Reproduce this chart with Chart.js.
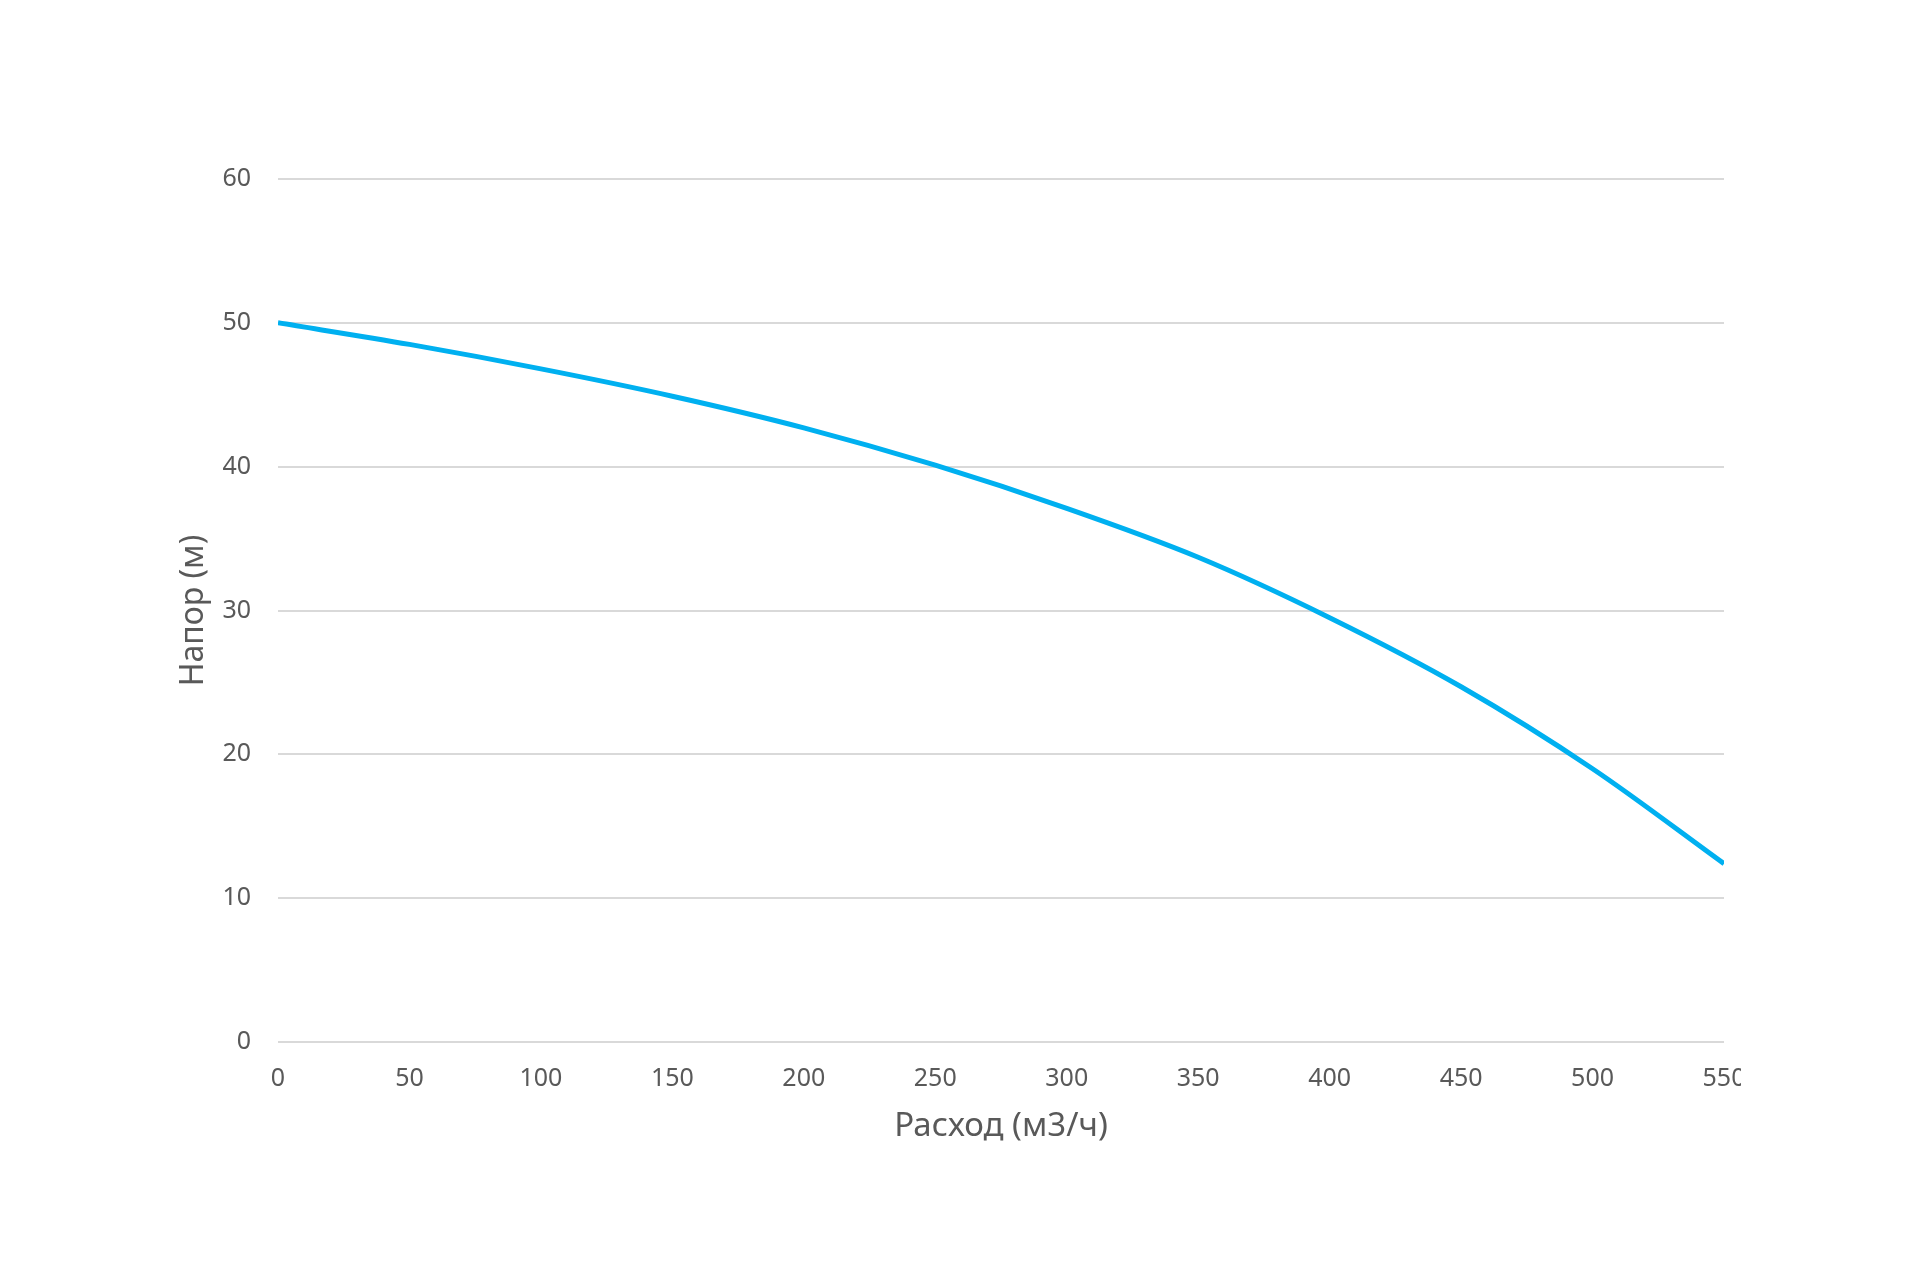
<!DOCTYPE html>
<html>
<head>
<meta charset="utf-8">
<title>Напор / Расход</title>
<script src="https://cdn.jsdelivr.net/npm/chart.js@4"></script>
<style>
  html, body { margin: 0; padding: 0; background: #fff; }
  #wrap { position: absolute; left: 0; top: 0; width: 1741px; height: 1280px; overflow: hidden; }
  #wrap canvas { position: absolute; left: 0; top: 0; }
</style>
</head>
<body>
<div id="wrap">
  <canvas id="myChart" width="1920" height="1280"></canvas>
</div>
<script>
'use strict';

// ******* DATA *******
let flowValues = [0, 50, 100, 150, 200, 250, 300, 350, 400, 450, 500, 550];
let headValues = [50.0, 48.5, 46.8, 44.9, 42.7, 40.1, 37.1, 33.7, 29.5, 24.7, 19.0, 12.4];
let xTicks = [0, 50, 100, 150, 200, 250, 300, 350, 400, 450, 500, 550];
let yTicks = [0, 10, 20, 30, 40, 50, 60];

let xTitle = 'Расход (м3/ч)';
let yTitle = 'Напор (м)';

// ******* BUILD POINTS *******
let points = [];
for (let i = 0; i < flowValues.length; i++) {
  points.push({ x: flowValues[i], y: headValues[i] });
}

let labelColor = '#595959';
let gridColor = '#d9d9d9';
let fontFamily = '"Noto Sans", "Open Sans", sans-serif';

const ctx = document.getElementById('myChart').getContext('2d');
const myChart = new Chart(ctx, {
  type: 'line',
  data: {
    datasets: [{
      data: points,
      borderColor: '#00b0f0',
      borderWidth: 5,
      pointRadius: 0,
      cubicInterpolationMode: 'monotone',
      fill: false
    }]
  },
  options: {
    responsive: false,
    animation: false,
    layout: {
      padding: { left: 175, right: 196, top: 179, bottom: 134 }
    },
    plugins: {
      legend: { display: false },
      tooltip: { enabled: false }
    },
    scales: {
      x: {
        type: 'linear',
        min: 0,
        max: 550,
        afterBuildTicks: function (scale) {
          scale.ticks = xTicks.map(v => ({ value: v }));
        },
        afterFit: function (scale) {
          scale.height = 104;
        },
        grid: { display: false, drawTicks: false },
        border: { display: false },
        ticks: {
          color: labelColor,
          padding: 22,
          maxRotation: 0,
          autoSkip: false,
          font: { family: fontFamily, size: 25 }
        },
        title: {
          display: true,
          text: xTitle,
          color: labelColor,
          padding: 0,
          font: { family: fontFamily, size: 33 }
        }
      },
      y: {
        type: 'linear',
        min: 0,
        max: 60,
        afterBuildTicks: function (scale) {
          scale.ticks = yTicks.map(v => ({ value: v }));
        },
        afterFit: function (scale) {
          scale.width = 103;
        },
        grid: {
          color: gridColor,
          lineWidth: 2,
          drawTicks: false
        },
        border: { display: false },
        ticks: {
          color: labelColor,
          padding: 27,
          font: { family: fontFamily, size: 25 }
        },
        title: {
          display: true,
          text: yTitle,
          color: labelColor,
          padding: 0,
          font: { family: fontFamily, size: 32 }
        }
      }
    }
  }
});
</script>
</body>
</html>
